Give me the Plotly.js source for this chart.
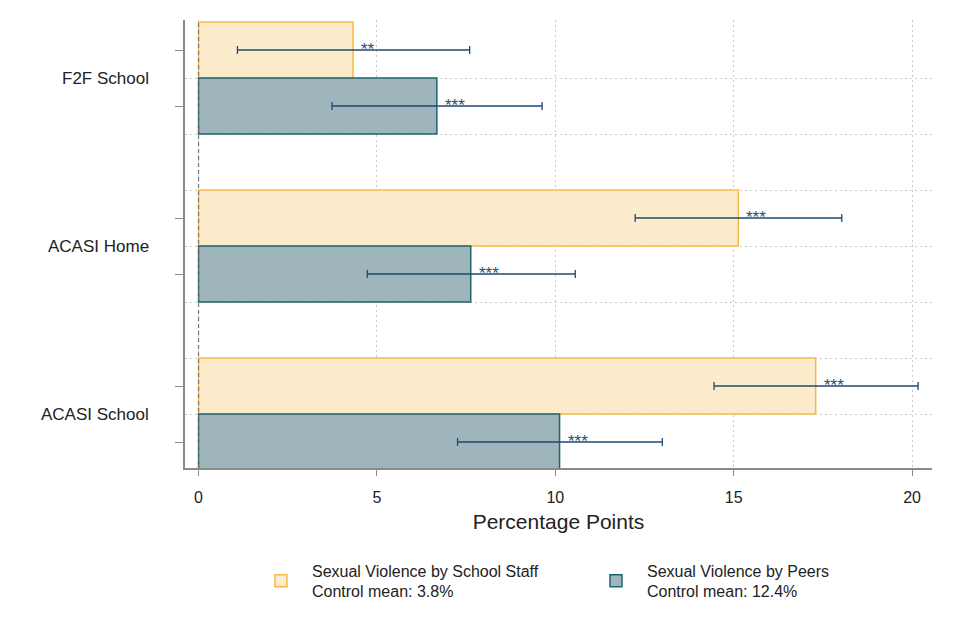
<!DOCTYPE html>
<html>
<head>
<meta charset="utf-8">
<script src="https://cdn.plot.ly/plotly-3.0.1.min.js"></script>
<style>
  html, body { margin: 0; padding: 0; background: #fff; }
  #chart { width: 957px; height: 638px; }
</style>
</head>
<body>
<div id="chart"></div>
<script>
// Survey modes (top to bottom)
const modes = ["F2F School", "ACASI Home", "ACASI School"];

// Treatment effects in percentage points, with 95% confidence bounds
const staffEffect = [4.33, 15.13, 17.30];
const staffLow    = [1.09, 12.24, 14.45];
const staffHigh   = [7.60, 18.03, 20.17];
const staffStars  = ["**", "***", "***"];

const peerEffect = [6.68, 7.63, 10.12];
const peerLow    = [3.74, 4.73, 7.26];
const peerHigh   = [9.63, 10.56, 13.00];
const peerStars  = ["***", "***", "***"];

const staffName = "Sexual Violence by School Staff<br>Control mean: 3.8%";
const peerName  = "Sexual Violence by Peers<br>Control mean: 12.4%";

const xTicks = [0, 5, 10, 15, 20];
const refLine = 0;

// Vertical layout: each mode occupies three slots (two bars and a gap)
const groupCenter = modes.map((m, i) => i * 3);
const staffPos = groupCenter.map(c => c - 0.5);
const peerPos  = groupCenter.map(c => c + 0.5);
// Horizontal grid runs along bar edges below the top bar
const gridPos  = [];
for (let v = 0; v <= 7; v++) gridPos.push(v);

const font = "Arial, 'Liberation Sans', sans-serif";
const errColor = "#1f4a72";
const starColor = "#2c4f72";
const gridColor = "#c8c8c8";
const gridDash = "2px,3px";

function barTrace(name, pos, val, lo, hi, fill, edge) {
  return {
    type: "bar",
    orientation: "h",
    name: name,
    x: val,
    y: pos,
    width: 1,
    marker: { color: fill, line: { color: edge, width: 1.5 } },
    error_x: {
      type: "data",
      symmetric: false,
      array: val.map((v, i) => hi[i] - v),
      arrayminus: val.map((v, i) => v - lo[i]),
      color: errColor,
      thickness: 1.3,
      width: 4
    },
    hoverinfo: "x+y"
  };
}

// Significance stars sit just right of each bar end, above the CI line
function starLabels(pos, val, stars) {
  return val.map((v, i) => ({
    text: stars[i],
    xref: "x", yref: "y",
    x: v, y: pos[i],
    xanchor: "left", yanchor: "middle",
    xshift: 6,
    yshift: 1,
    showarrow: false,
    font: { family: font, size: 17, color: starColor }
  }));
}

const modeLabels = modes.map((m, i) => ({
  text: m,
  xref: "paper", yref: "y",
  x: 0, y: groupCenter[i],
  xanchor: "right", yanchor: "middle",
  xshift: -34,
  showarrow: false,
  font: { family: font, size: 17, color: "#222" }
}));

const data = [
  barTrace(staffName, staffPos, staffEffect, staffLow, staffHigh, "rgb(253,236,204)", "rgb(247,186,69)"),
  barTrace(peerName, peerPos, peerEffect, peerLow, peerHigh, "rgb(158,181,188)", "rgb(30,100,110)")
];

const layout = {
  width: 957,
  height: 638,
  margin: { l: 185, r: 25, t: 20, b: 170 },
  paper_bgcolor: "#fff",
  plot_bgcolor: "#fff",
  font: { family: font, size: 16, color: "#222" },
  barmode: "overlay",
  showlegend: true,
  xaxis: {
    range: [-0.38, 20.56],
    tickmode: "array",
    tickvals: xTicks,
    ticks: "outside",
    ticklen: 6,
    tickcolor: "#8a8a8a",
    ticklabelstandoff: 8,
    tickfont: { size: 16, color: "#222" },
    showline: true,
    linecolor: "#8a8a8a",
    linewidth: 1.5,
    showgrid: true,
    gridcolor: gridColor,
    griddash: gridDash,
    gridwidth: 1,
    zeroline: false,
    title: { text: "Percentage Points", font: { size: 21, color: "#222" }, standoff: 9 }
  },
  yaxis: {
    range: [6.964, -1.036],
    tickmode: "array",
    tickvals: gridPos,
    ticktext: gridPos.map(() => ""),
    ticks: "",
    showgrid: true,
    gridcolor: gridColor,
    griddash: gridDash,
    gridwidth: 1,
    minor: {
      tickmode: "array",
      tickvals: staffPos.concat(peerPos),
      ticks: "outside",
      ticklen: 8,
      tickcolor: "#8a8a8a",
      tickwidth: 1,
      showgrid: false
    },
    showline: true,
    linecolor: "#8a8a8a",
    linewidth: 1.5,
    zeroline: false
  },
  shapes: [{
    type: "line",
    xref: "x", yref: "paper",
    x0: refLine, x1: refLine, y0: 0, y1: 1,
    line: { color: "#7a7a7a", width: 1.2, dash: "4px,3px" },
    layer: "above"
  }],
  annotations: modeLabels
    .concat(starLabels(staffPos, staffEffect, staffStars))
    .concat(starLabels(peerPos, peerEffect, peerStars)),
  legend: {
    orientation: "h",
    x: 0.087, xanchor: "left",
    y: -0.191, yanchor: "top",
    itemwidth: 52,
    entrywidth: 268,
    font: { size: 16, color: "#222" },
    bgcolor: "rgba(0,0,0,0)",
    traceorder: "normal"
  }
};

Plotly.newPlot("chart", data, layout, { displayModeBar: false, responsive: false });
</script>
</body>
</html>
